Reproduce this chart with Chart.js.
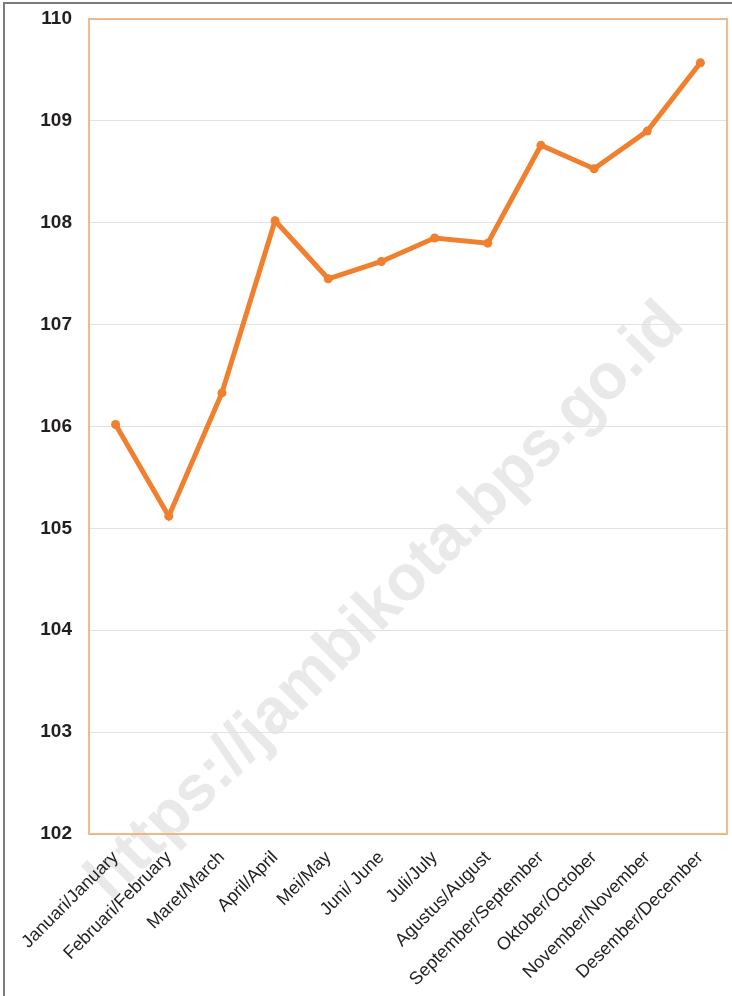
<!DOCTYPE html>
<html>
<head>
<meta charset="utf-8">
<script src="https://cdn.jsdelivr.net/npm/chart.js@4"></script>
<style>
  html, body { margin: 0; padding: 0; background: #fff; overflow: hidden; }
  #frame {
    position: absolute; left: 3px; top: 2px; width: 800px; height: 1100px;
    border: 2px solid #7c7c7c;
  }
  #wrap { position: absolute; left: 0; top: 0; width: 732px; height: 996px; }
</style>
</head>
<body>
<div id="frame"></div>
<div id="wrap"><canvas id="lineChart"></canvas></div>
<script>
// ── Data ──
const months = [
    'Januari/January', 'Februari/February', 'Maret/March', 'April/April',
    'Mei/May', 'Juni/ June', 'Juli/July', 'Agustus/August',
    'September/September', 'Oktober/October', 'November/November', 'Desember/December'
];
const values = [106.02, 105.12, 106.33, 108.02, 107.45, 107.62, 107.85, 107.80, 108.76, 108.53, 108.90, 109.57];
const yMin = 102;
const yMax = 110;

const lineColor = '#F07F2E';
const frameColor = '#F2A466';
const fontFamily = '"Liberation Sans", Arial, sans-serif';

// watermark behind everything
const watermark = {
    id: 'watermark',
    beforeDraw(chart) {
        const ctx = chart.ctx;
        ctx.save();
        ctx.translate(386, 602);
        ctx.rotate(-Math.PI / 4);
        ctx.font = 'bold 64px ' + fontFamily;
        ctx.fillStyle = '#e9e9e9';
        ctx.textAlign = 'center';
        ctx.textBaseline = 'middle';
        ctx.fillText('https://jambikota.bps.go.id', 0, 0);
        ctx.restore();
    }
};

// orange box round the plot area
const plotFrame = {
    id: 'plotFrame',
    beforeDatasetsDraw(chart) {
        const a = chart.chartArea;
        const ctx = chart.ctx;
        ctx.save();
        ctx.strokeStyle = frameColor;
        ctx.lineWidth = 1.5;
        ctx.strokeRect(a.left, a.top, a.right - a.left, a.bottom - a.top);
        ctx.restore();
    }
};

new Chart(document.getElementById('lineChart'), {
    type: 'line',
    data: {
        labels: months,
        datasets: [{
            data: values,
            borderColor: lineColor,
            backgroundColor: lineColor,
            borderWidth: 5,
            pointRadius: 4.5,
            pointHoverRadius: 4.5,
            pointBorderWidth: 0,
            tension: 0,
            fill: false
        }]
    },
    options: {
        responsive: true,
        maintainAspectRatio: false,
        animation: false,
        layout: { padding: { left: 0, top: 19, right: 5, bottom: 0 } },
        plugins: {
            legend: { display: false },
            tooltip: { enabled: false }
        },
        scales: {
            x: {
                offset: true,
                grid: { display: false, drawTicks: false },
                border: { display: false },
                afterFit: s => { s.height = 162; s.paddingLeft = 0; s.paddingRight = 0; },
                ticks: {
                    autoSkip: false, maxRotation: 45, minRotation: 45, padding: 13,
                    color: '#231f20', font: { family: fontFamily, size: 18 }
                }
            },
            y: {
                min: yMin, max: yMax,
                afterFit: s => { s.width = 89; s.paddingTop = 0; s.paddingBottom = 0; },
                grid: { color: '#e2e2e2', lineWidth: 1, drawTicks: false },
                border: { display: false },
                ticks: {
                    stepSize: 1, padding: 17,
                    color: '#231f20', font: { family: fontFamily, size: 19, weight: 'bold' }
                }
            }
        }
    },
    plugins: [watermark, plotFrame]
});
</script>
</body>
</html>
